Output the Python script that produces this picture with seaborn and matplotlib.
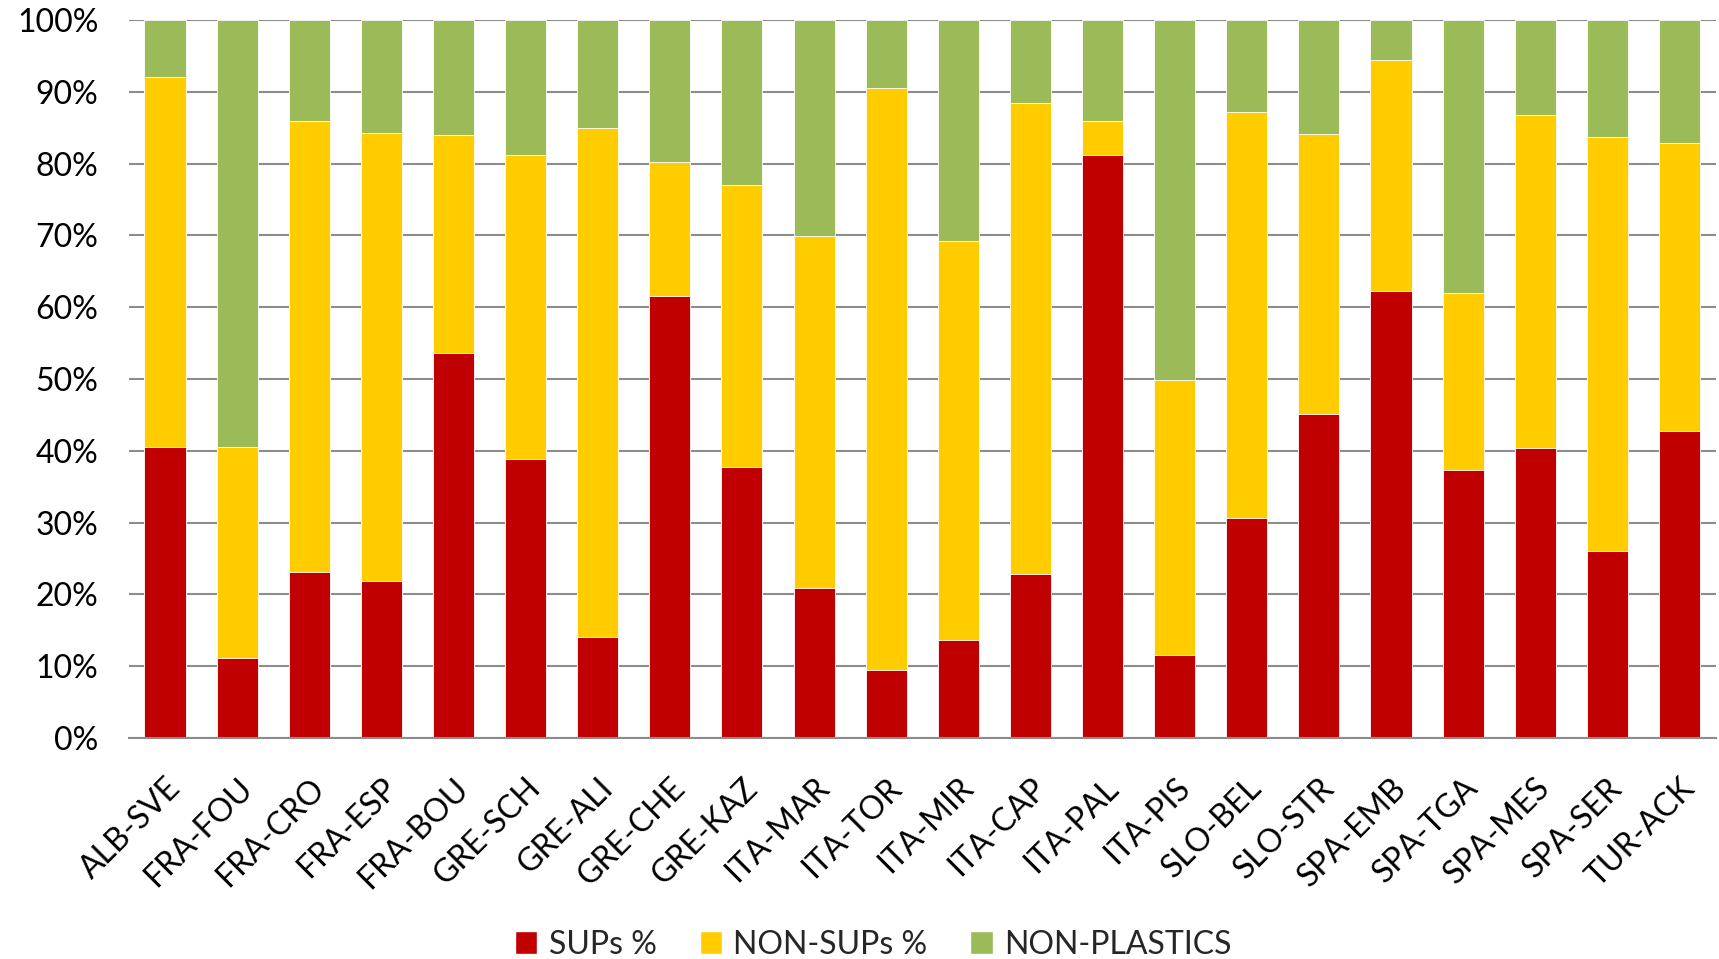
import matplotlib
matplotlib.use("Agg")
import matplotlib.pyplot as plt
from matplotlib.patches import Patch
from matplotlib.ticker import PercentFormatter
import seaborn as sns
import pandas as pd

# Values (percent of items per site)
sites = ["ALB-SVE", "FRA-FOU", "FRA-CRO", "FRA-ESP", "FRA-BOU", "GRE-SCH", "GRE-ALI",
         "GRE-CHE", "GRE-KAZ", "ITA-MAR", "ITA-TOR", "ITA-MIR", "ITA-CAP", "ITA-PAL",
         "ITA-PIS", "SLO-BEL", "SLO-STR", "SPA-EMB", "SPA-TGA", "SPA-MES", "SPA-SER",
         "TUR-ACK"]
sups = [40.6, 11.2, 23.1, 21.8, 53.6, 38.8, 14.0, 61.6, 37.7, 20.9, 9.5,
        13.7, 22.9, 81.2, 11.5, 30.7, 45.1, 62.2, 37.3, 40.4, 26.0, 42.8]
non_sups = [51.5, 29.3, 62.9, 62.5, 30.4, 42.4, 71.0, 18.6, 39.3, 49.0, 81.0,
            55.5, 65.5, 4.7, 38.4, 56.5, 39.1, 32.2, 24.7, 46.4, 57.7, 40.1]
non_plastics = [7.9, 59.5, 14.0, 15.7, 16.0, 18.8, 15.0, 19.8, 23.0, 30.1, 9.5,
                30.8, 11.6, 14.1, 50.1, 12.8, 15.8, 5.6, 38.0, 13.2, 16.3, 17.1]

series = ["SUPs %", "NON-SUPs %", "NON-PLASTICS"]
colors = ["#C00000", "#FFCC00", "#9BBB59"]

df = pd.DataFrame({"site": sites, series[0]: sups, series[1]: non_sups, series[2]: non_plastics})
# cumulative tops for stacking
cum = df[series].cumsum(axis=1)
cum["site"] = df["site"]

sns.set_theme(style="white")
plt.rcParams["font.family"] = ["Lato", "DejaVu Sans"]

fig, ax = plt.subplots(figsize=(17.19, 9.59), dpi=100)
fig.subplots_adjust(left=0.075, right=0.998, top=0.979, bottom=0.2305)

# draw tallest layer first so lower layers sit on top
for name, col in reversed(list(zip(series, colors))):
    sns.barplot(data=cum, x="site", y=name, color=col, saturation=1, width=0.57,
                edgecolor="white", linewidth=0.6, ax=ax, zorder=2)

ax.set_ylim(0, 100)
ax.set_xlim(-0.5, len(sites) - 0.5)
ax.set_yticks(range(0, 101, 10))
ax.yaxis.set_major_formatter(PercentFormatter(decimals=0))
ax.grid(axis="y", color="#8c8c8c", linewidth=1.5, zorder=0)
ax.set_axisbelow(True)
for s in ["left", "right", "top"]:
    ax.spines[s].set_visible(False)
ax.spines["bottom"].set_color("#8c8c8c")
ax.spines["bottom"].set_linewidth(1.5)
ax.set_xlabel("")
ax.set_ylabel("")
ax.tick_params(axis="y", length=0, labelsize=23, pad=22, labelcolor="black")
ax.tick_params(axis="x", length=0, labelsize=23, pad=25, labelcolor="black")
plt.setp(ax.get_xticklabels(), rotation=45, ha="right", va="top", rotation_mode="anchor")

handles = [Patch(facecolor=c, label=n) for n, c in zip(series, colors)]
fig.legend(handles=handles, loc="center", bbox_to_anchor=(0.508, 0.015), ncol=3,
           frameon=False, fontsize=23, handlelength=0.7, handleheight=0.7,
           handletextpad=0.35, columnspacing=1.35)

fig.savefig("out.png", dpi=100)
